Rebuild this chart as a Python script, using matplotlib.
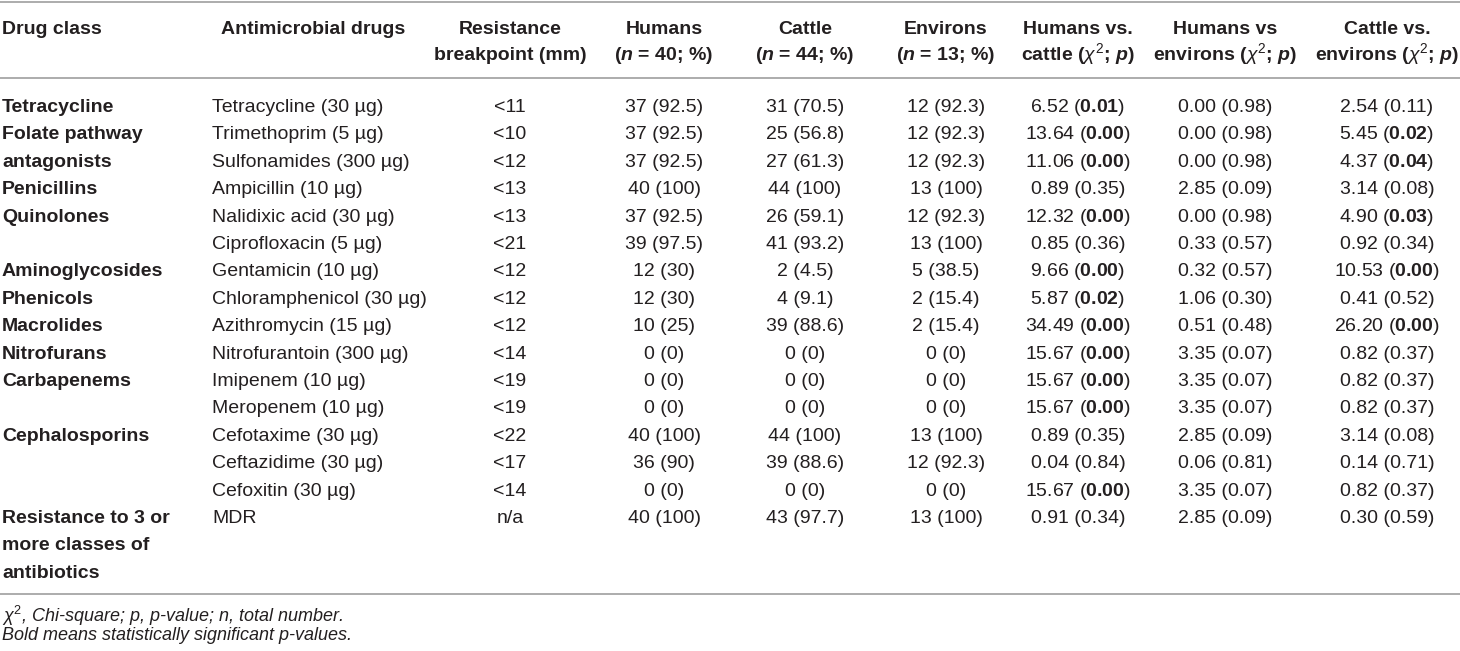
import matplotlib
matplotlib.use("Agg")
import matplotlib.pyplot as plt

# ---------------------------------------------------------------
# table data
# ---------------------------------------------------------------
drug_class = ["Tetracycline", "Folate pathway", "antagonists", "Penicillins",
              "Quinolones", "", "Aminoglycosides", "Phenicols", "Macrolides",
              "Nitrofurans", "Carbapenems", "", "Cephalosporins", "", "",
              "Resistance to 3 or", "more classes of", "antibiotics"]

drugs = ["Tetracycline (30 µg)", "Trimethoprim (5 µg)", "Sulfonamides (300 µg)",
         "Ampicillin (10 µg)", "Nalidixic acid (30 µg)", "Ciprofloxacin (5 µg)",
         "Gentamicin (10 µg)", "Chloramphenicol (30 µg)", "Azithromycin (15 µg)",
         "Nitrofurantoin (300 µg)", "Imipenem (10 µg)", "Meropenem (10 µg)",
         "Cefotaxime (30 µg)", "Ceftazidime (30 µg)", "Cefoxitin (30 µg)", "MDR"]

breakpoint_mm = ["<11", "<10", "<12", "<13", "<13", "<21", "<12", "<12", "<12",
                 "<14", "<19", "<19", "<22", "<17", "<14", "n/a"]

humans_n = [37, 37, 37, 40, 37, 39, 12, 12, 10, 0, 0, 0, 40, 36, 0, 40]
humans_pct = ["92.5", "92.5", "92.5", "100", "92.5", "97.5", "30", "30", "25",
              "0", "0", "0", "100", "90", "0", "100"]
cattle_n = [31, 25, 27, 44, 26, 41, 2, 4, 39, 0, 0, 0, 44, 39, 0, 43]
cattle_pct = ["70.5", "56.8", "61.3", "100", "59.1", "93.2", "4.5", "9.1", "88.6",
              "0", "0", "0", "100", "88.6", "0", "97.7"]
env_n = [12, 12, 12, 13, 12, 13, 5, 2, 2, 0, 0, 0, 13, 12, 0, 13]
env_pct = ["92.3", "92.3", "92.3", "100", "92.3", "100", "38.5", "15.4", "15.4",
           "0", "0", "0", "100", "92.3", "0", "100"]

hc_chi = [6.52, 13.64, 11.06, 0.89, 12.32, 0.85, 9.66, 5.87, 34.49, 15.67,
          15.67, 15.67, 0.89, 0.04, 15.67, 0.91]
hc_p = [0.01, 0.00, 0.00, 0.35, 0.00, 0.36, 0.00, 0.02, 0.00, 0.00, 0.00, 0.00,
        0.35, 0.84, 0.00, 0.34]
he_chi = [0.00, 0.00, 0.00, 2.85, 0.00, 0.33, 0.32, 1.06, 0.51, 3.35, 3.35, 3.35,
          2.85, 0.06, 3.35, 2.85]
he_p = [0.98, 0.98, 0.98, 0.09, 0.98, 0.57, 0.57, 0.30, 0.48, 0.07, 0.07, 0.07,
        0.09, 0.81, 0.07, 0.09]
ce_chi = [2.54, 5.45, 4.37, 3.14, 4.90, 0.92, 10.53, 0.41, 26.20, 0.82, 0.82, 0.82,
          3.14, 0.14, 0.82, 0.30]
ce_p = [0.11, 0.02, 0.04, 0.08, 0.03, 0.34, 0.00, 0.52, 0.00, 0.37, 0.37, 0.37,
        0.08, 0.71, 0.37, 0.59]

header_top = ["Drug class", "Antimicrobial drugs", "Resistance", "Humans", "Cattle",
              "Environs", "Humans vs.", "Humans vs", "Cattle vs."]
header_bot = ["", "", "breakpoint (mm)", r"($\mathbfit{n}$ = 40; %)",
              r"($\mathbfit{n}$ = 44; %)", r"($\mathbfit{n}$ = 13; %)",
              r"cattle ($\chi^2$; $\mathbfit{p}$)", r"environs ($\chi^2$; $\mathbfit{p}$)",
              r"environs ($\chi^2$; $\mathbfit{p}$)"]

footnotes = [r"$\chi^2$, Chi-square; p, p-value; n, total number.",
             "Bold means statistically significant p-values."]

# ---------------------------------------------------------------
# styling / layout
# ---------------------------------------------------------------
plt.rcParams['font.family'] = ['Liberation Sans', 'DejaVu Sans']
plt.rcParams['mathtext.fontset'] = 'custom'
plt.rcParams['mathtext.rm'] = 'Liberation Sans'
plt.rcParams['mathtext.it'] = 'Liberation Sans:italic'
plt.rcParams['mathtext.bf'] = 'Liberation Sans:bold'
plt.rcParams['mathtext.bfit'] = 'Liberation Sans:italic:bold'

W, H = 1460, 651
FS = 14
TXT = '#231f20'
LINE = '#a6a6a6'

col_x = [2, 313, 510, 664, 805, 946, 1078, 1225, 1387]
data_x = [2, 212, 510, 664, 805, 946, 1078, 1225, 1387]
row0, row_h = 105, 27.4
cap = 7  # half cap height, px, used to turn centre into baseline


def cnt(n, pct):
    return "%d (%s)" % (n, pct)


def chi_p(chi, p):
    ps = "%.2f" % p
    if p < 0.05:
        ps = r"$\mathbf{%s}$" % ps
    return "%.2f (%s)" % (chi, ps)


fig = plt.figure(figsize=(W / 100, H / 100), dpi=100)
ax = fig.add_axes([0, 0, 1, 1])
ax.set_xlim(0, W)
ax.set_ylim(H, 0)
ax.axis('off')

# rules
for y in [2, 78, 594]:
    ax.plot([0, W], [y, y], color=LINE, lw=1.3, solid_capstyle='butt')

# header
for i in range(9):
    ha = 'left' if i == 0 else 'center'
    ax.text(col_x[i], 27 + cap, header_top[i], ha=ha, va='baseline',
            fontsize=FS, fontweight='bold', color=TXT)
    if header_bot[i]:
        ax.text(col_x[i], 53 + cap, header_bot[i], ha=ha, va='baseline',
                fontsize=FS, fontweight='bold', color=TXT)

# body
for r, name in enumerate(drug_class):
    if name:
        ax.text(data_x[0], row0 + r * row_h + cap, name, ha='left', va='baseline',
                fontsize=FS, fontweight='bold', color=TXT)

for r in range(len(drugs)):
    y = row0 + r * row_h + cap
    cells = [drugs[r], breakpoint_mm[r],
             cnt(humans_n[r], humans_pct[r]), cnt(cattle_n[r], cattle_pct[r]),
             cnt(env_n[r], env_pct[r]),
             chi_p(hc_chi[r], hc_p[r]), chi_p(he_chi[r], he_p[r]),
             chi_p(ce_chi[r], ce_p[r])]
    for c, s in enumerate(cells):
        ha = 'left' if c == 0 else 'center'
        ax.text(data_x[c + 1], y, s, ha=ha, va='baseline', fontsize=FS, color=TXT)

# footnotes
for k, s in enumerate(footnotes):
    ax.text(2, 622 + k * 18.5, s, ha='left', va='baseline', fontsize=13,
            fontstyle='italic', color=TXT)

fig.savefig("out.png", dpi=100, facecolor='white')
